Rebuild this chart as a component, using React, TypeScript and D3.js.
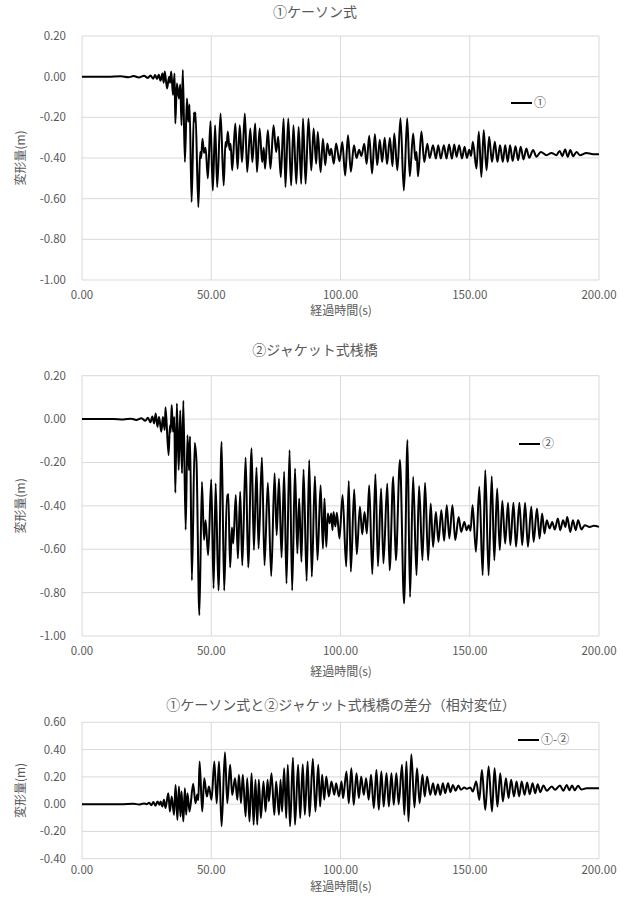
import React, { useEffect, useRef } from 'react';
import * as d3 from 'd3';

type Pt = [number, number];

const caisson: Pt[] = [
  [0, 0], [10, 0], [15, 0.002], [18, -0.003], [20, 0.003], [22, -0.004], [24, 0.004], [25.5, -0.006],
  [26.5, 0.006], [27.5, -0.01], [28.3, 0.008], [29, -0.012], [29.7, 0.01], [30.4, -0.02], [31.1, 0.015],
  [31.6, -0.03], [32.0, 0.025], [32.9, -0.058], [33.7, 0.0], [34.1, -0.03], [34.5, 0.025], [35.2, -0.09],
  [35.8, 0.016], [36.1, -0.23], [36.7, -0.033], [37.5, -0.107], [38.0, -0.038], [38.5, -0.239], [39.0, 0.033],
  [39.8, -0.42], [40.6, -0.107], [41.1, -0.222], [41.6, -0.137], [42.4, -0.617], [43.3, -0.176], [43.6, -0.22],
  [43.9, -0.176], [45.0, -0.642], [45.7, -0.37], [46.1, -0.4], [46.6, -0.305], [47.2, -0.375], [47.8, -0.35],
  [48.7, -0.5], [49.7, -0.219], [50.6, -0.56], [51.5, -0.239], [52.3, -0.543], [53.6, -0.181], [54.8, -0.535],
  [55.5, -0.321], [55.9, -0.345], [56.4, -0.27], [57.1, -0.36], [57.5, -0.33], [58.1, -0.461], [59.3, -0.23],
  [60.2, -0.453], [61.0, -0.239], [61.9, -0.42], [63.0, -0.181], [63.9, -0.469], [65.1, -0.255], [65.9, -0.42],
  [67.0, -0.23], [67.7, -0.469], [68.7, -0.255], [69.7, -0.42], [70.3, -0.35], [70.8, -0.453], [71.9, -0.263],
  [72.9, -0.453], [74.1, -0.239], [75.1, -0.37], [75.9, -0.296], [76.9, -0.494], [78.0, -0.206], [78.7, -0.543],
  [79.8, -0.206], [80.9, -0.535], [81.8, -0.239], [82.9, -0.527], [83.8, -0.247], [84.8, -0.527], [85.5, -0.206],
  [86.5, -0.527], [87.6, -0.206], [88.7, -0.461], [89.6, -0.255], [90.6, -0.428], [91.2, -0.272], [92.3, -0.469],
  [93.2, -0.305], [94.1, -0.436], [94.9, -0.329], [95.8, -0.387], [96.4, -0.354], [97.4, -0.428], [98.3, -0.329],
  [99.6, -0.416], [100.7, -0.321], [101.8, -0.486], [102.9, -0.288], [104.0, -0.468], [105.2, -0.337], [106.2, -0.4],
  [107.2, -0.36], [108.1, -0.39], [109.2, -0.33], [110.1, -0.43], [111.1, -0.29], [112.2, -0.476], [113.3, -0.283],
  [114.2, -0.435], [115.2, -0.31], [116.1, -0.42], [117.1, -0.3], [118.0, -0.43], [119.1, -0.3], [120.1, -0.44],
  [120.8, -0.28], [122.0, -0.46], [123.2, -0.205], [124.5, -0.56], [125.8, -0.205], [126.8, -0.49], [128.1, -0.28],
  [129.0, -0.41], [129.4, -0.37], [130.0, -0.49], [131.3, -0.27], [132.4, -0.42], [133.6, -0.33], [134.5, -0.4],
  [135.8, -0.337], [136.9, -0.403], [137.8, -0.337], [138.8, -0.403], [140.0, -0.337], [141.0, -0.403], [142.0, -0.334],
  [143.1, -0.403], [144.0, -0.334], [144.9, -0.394], [145.9, -0.337], [147.0, -0.403], [148.0, -0.345], [148.9, -0.4],
  [149.8, -0.36], [150.5, -0.39], [151.2, -0.32], [152.6, -0.452], [153.5, -0.271], [154.5, -0.493], [155.4, -0.263],
  [156.5, -0.46], [157.5, -0.296], [158.6, -0.419], [159.7, -0.32], [160.7, -0.419], [161.7, -0.337], [162.8, -0.419],
  [163.7, -0.337], [164.7, -0.419], [165.6, -0.337], [166.6, -0.414], [167.7, -0.342], [168.7, -0.411], [169.7, -0.345],
  [170.8, -0.407], [171.9, -0.353], [173.0, -0.399], [174.5, -0.361], [175.8, -0.394], [177.5, -0.37], [179.7, -0.386],
  [181.6, -0.375], [183.5, -0.386], [184.8, -0.365], [185.8, -0.391], [186.9, -0.358], [187.9, -0.394], [188.9, -0.361],
  [190.0, -0.391], [191.3, -0.37], [192.6, -0.386], [195.1, -0.375], [197.7, -0.381], [200, -0.381],
];

// ②ジャケット式桟橋
const jacket: Pt[] = [
  [0, 0], [12, 0], [16, -0.002], [19, 0.002], [21, -0.004], [23, 0.004], [24.5, -0.008], [25.5, 0.006],
  [26.5, -0.015], [27.2, 0.012], [27.9, -0.02], [28.5, 0.026], [29.2, -0.035], [29.8, 0.01], [30.7, -0.058],
  [31.3, 0.01], [32.0, -0.05], [32.3, 0.054], [33.5, -0.166], [34.0, -0.03], [34.3, -0.06], [34.7, 0.065],
  [35.2, -0.058], [35.7, 0.01], [36.1, -0.34], [36.7, 0.072], [37.4, -0.235], [38.0, 0.04], [38.7, -0.25],
  [39.2, 0.085], [40.1, -0.51], [40.8, -0.074], [41.4, -0.235], [41.8, -0.08], [42.5, -0.743], [43.6, -0.11],
  [44.3, -0.2], [45.4, -0.904], [46.4, -0.29], [47.2, -0.558], [47.8, -0.466], [48.8, -0.627], [50.0, -0.278],
  [50.9, -0.78], [51.7, -0.297], [52.8, -0.79], [54.0, -0.105], [55.0, -0.79], [56.1, -0.35], [56.35, -0.37],
  [56.6, -0.345], [57.3, -0.684], [58.0, -0.5], [58.5, -0.574], [59.5, -0.35], [60.3, -0.643], [61.2, -0.335],
  [62.0, -0.674], [63.3, -0.177], [64.3, -0.684], [65.6, -0.135], [66.5, -0.604], [67.5, -0.223], [68.3, -0.597],
  [69.6, -0.177], [70.6, -0.674], [71.9, -0.294], [73.2, -0.724], [74.5, -0.25], [75.3, -0.535], [76.2, -0.274],
  [77.2, -0.638], [78.2, -0.243], [79.1, -0.758], [80.3, -0.143], [81.3, -0.79], [82.4, -0.228], [83.3, -0.62],
  [84.0, -0.366], [84.9, -0.658], [85.7, -0.232], [86.9, -0.746], [87.9, -0.189], [88.9, -0.727], [90.1, -0.263],
  [91.1, -0.65], [92.3, -0.305], [93.2, -0.597], [93.8, -0.366], [94.5, -0.589], [95.1, -0.435], [95.8, -0.48],
  [96.4, -0.435], [96.9, -0.512], [97.3, -0.428], [98.0, -0.495], [98.6, -0.432], [99.6, -0.55], [100.8, -0.35],
  [102.2, -0.68], [103.2, -0.285], [104.0, -0.704], [105.3, -0.325], [106.3, -0.623], [107.5, -0.404], [108.4, -0.531],
  [109.3, -0.428], [110.2, -0.528], [111.1, -0.305], [112.3, -0.715], [113.5, -0.254], [114.5, -0.678], [115.7, -0.32],
  [116.6, -0.666], [118.1, -0.297], [119.0, -0.697], [120.4, -0.266], [121.4, -0.651], [123.0, -0.189], [124.6, -0.85],
  [125.9, -0.097], [126.9, -0.82], [128.1, -0.266], [129.4, -0.72], [130.4, -0.309], [131.7, -0.651], [132.7, -0.294],
  [133.9, -0.651], [134.9, -0.389], [135.8, -0.589], [136.9, -0.428], [137.9, -0.566], [139.0, -0.42], [140.1, -0.561],
  [141.1, -0.397], [142.1, -0.55], [143.3, -0.397], [144.4, -0.558], [145.7, -0.451], [146.7, -0.52], [147.9, -0.474],
  [148.8, -0.512], [149.6, -0.49], [150.3, -0.515], [151.1, -0.397], [152.4, -0.612], [153.7, -0.312], [155.0, -0.72],
  [156.0, -0.235], [157.3, -0.72], [158.5, -0.263], [159.5, -0.651], [160.6, -0.32], [161.6, -0.604], [162.6, -0.377],
  [163.7, -0.574], [164.8, -0.386], [165.7, -0.581], [166.9, -0.386], [167.9, -0.589], [169.2, -0.386], [170.3, -0.581],
  [171.4, -0.386], [172.5, -0.589], [173.8, -0.404], [174.7, -0.566], [176.0, -0.412], [177.0, -0.55], [178.0, -0.435],
  [178.9, -0.527], [179.8, -0.466], [180.9, -0.504], [181.9, -0.474], [182.9, -0.509], [184.1, -0.458], [185.0, -0.512],
  [186.1, -0.466], [187.0, -0.497], [187.7, -0.451], [188.9, -0.52], [189.9, -0.466], [191.0, -0.512], [191.9, -0.466],
  [193.2, -0.509], [194.5, -0.489], [196.4, -0.497], [198, -0.492], [200, -0.497],
];

// ①-② 相対変位
const relative: Pt[] = [
  [0, 0], [15, 0], [20, 0.003], [22, -0.003], [24, 0.005], [25, 0], [26, 0.01], [26.8, -0.008], [27.6, 0.015],
  [28.4, -0.012], [29.2, 0.02], [30.0, -0.005], [30.4, 0.02], [31.1, -0.017], [31.7, 0.032], [32.3, -0.029],
  [33.4, 0.08], [34.0, -0.054], [34.7, 0.056], [35.6, -0.078], [36.2, 0.141], [36.9, -0.115], [37.5, 0.129],
  [38.1, -0.09], [38.5, 0.093], [39.2, -0.127], [39.8, 0.117], [40.3, -0.078], [40.8, 0.08], [41.6, -0.054],
  [43.0, 0.15], [43.9, 0.007], [44.6, 0.07], [45.0, 0.03], [45.5, 0.312], [46.5, -0.054], [47.3, 0.19],
  [48.3, 0.056], [49.1, 0.129], [50.1, 0.032], [51.2, 0.312], [52.1, 0.007], [53.0, 0.312], [54.0, -0.163],
  [55.3, 0.38], [56.2, 0.007], [57.3, 0.288], [58.1, 0.068], [59.2, 0.19], [60.1, 0.032], [60.7, 0.215],
  [61.5, 0.007], [62.2, 0.215], [63.3, -0.09], [63.9, 0.19], [64.8, -0.127], [65.6, 0.227], [66.4, -0.151],
  [67.1, 0.178], [67.8, -0.151], [68.4, 0.178], [69.2, -0.102], [70.2, 0.166], [71.0, -0.054], [71.8, 0.178],
  [72.3, 0.02], [73.3, 0.227], [74.4, -0.078], [75.1, 0.166], [76.2, -0.078], [76.8, 0.178], [77.4, -0.054],
  [78.2, 0.263], [79.0, -0.102], [79.6, 0.288], [80.5, -0.163], [81.6, 0.341], [82.4, -0.151], [83.6, 0.288],
  [84.4, -0.102], [85.4, 0.293], [86.2, -0.078], [87.3, 0.312], [88.0, -0.09], [89.3, 0.332], [90.3, -0.054],
  [91.4, 0.288], [92.1, -0.017], [92.9, 0.215], [93.7, 0.032], [94.5, 0.202], [95.5, 0.056], [96.5, 0.166],
  [97.6, 0.068], [98.3, 0.154], [99.4, 0.056], [100.4, 0.166], [101.0, 0.044], [102.3, 0.239], [103.2, 0.007],
  [104.2, 0.263], [105.1, -0.005], [106.2, 0.227], [107.1, 0.044], [108.0, 0.202], [109.0, 0.068], [109.9, 0.19],
  [110.9, 0.032], [111.8, 0.215], [112.9, -0.029], [113.9, 0.251], [114.8, -0.041], [115.8, 0.239], [116.7, -0.017],
  [117.8, 0.227], [118.7, -0.017], [119.7, 0.227], [120.6, -0.005], [121.6, 0.227], [122.5, 0], [123.8, 0.288],
  [124.7, -0.078], [125.5, 0.312], [126.3, -0.127], [127.4, 0.366], [128.6, -0.024], [129.6, 0.263], [130.6, 0.007],
  [131.7, 0.215], [132.6, 0.056], [133.5, 0.202], [134.7, 0.068], [135.8, 0.154], [136.7, 0.068], [137.7, 0.146],
  [138.6, 0.068], [139.6, 0.154], [140.5, 0.08], [141.6, 0.154], [142.5, 0.088], [143.5, 0.141], [144.5, 0.098],
  [145.6, 0.137], [146.6, 0.105], [147.9, 0.122], [148.9, 0.112], [150.2, 0.122], [151.2, 0.093], [152.5, 0.166],
  [153.7, 0.032], [154.7, 0.251], [156.0, -0.041], [157.3, 0.276], [158.6, -0.054], [159.6, 0.263], [160.7, -0.017],
  [161.8, 0.227], [162.8, 0.02], [164.0, 0.19], [165.0, 0.044], [166.0, 0.178], [167.1, 0.056], [168.1, 0.166],
  [169.1, 0.056], [170.1, 0.166], [171.2, 0.068], [172.2, 0.159], [173.2, 0.073], [174.3, 0.154], [175.3, 0.08],
  [176.3, 0.146], [177.3, 0.088], [178.5, 0.137], [179.8, 0.098], [181.7, 0.129], [183.0, 0.105], [184.9, 0.137],
  [186.2, 0.098], [187.5, 0.141], [188.5, 0.102], [189.6, 0.137], [190.6, 0.102], [191.9, 0.134], [193.2, 0.107],
  [195.2, 0.117], [200, 0.117],
];

const xTicks = [0, 50, 100, 150, 200];
const yTicksMain = [0.2, 0, -0.2, -0.4, -0.6, -0.8, -1.0];
const yTicksDiff = [0.6, 0.4, 0.2, 0, -0.2, -0.4];
const titles = ['①ケーソン式', '②ジャケット式桟橋', '①ケーソン式と②ジャケット式桟橋の差分（相対変位）'];
const legendLabels = ['①', '②', '①-②'];
const xTitle = '経過時間(s)';
const yTitle = '変形量(m)';

const FONT = "'Noto Sans CJK JP', 'Noto Sans', sans-serif";
const TEXT = '#595959';

const panels = [
  { data: caisson, ticks: yTicksMain, top: 36, bottom: 280, titleX: 315, titleY: 12, tickY: 295, labelY: 311, legend: [511, 103] },
  { data: jacket, ticks: yTicksMain, top: 375.7, bottom: 636, titleX: 315, titleY: 350, tickY: 651, labelY: 672, legend: [519, 444] },
  { data: relative, ticks: yTicksDiff, top: 722.3, bottom: 858.7, titleX: 341, titleY: 705, tickY: 870, labelY: 887, legend: [518, 740] },
];

export default function App() {
  const ref = useRef<SVGSVGElement>(null);
  const width = 629;
  const height = 903;
  const left = 82;
  const right = 599;

  useEffect(() => {
    const svg = d3.select(ref.current);
    svg.selectAll('*').remove();

    svg.append('rect').attr('width', width).attr('height', height).attr('fill', '#fff');

    const x = d3.scaleLinear().domain([0, 200]).range([left, right]);

    panels.forEach((p, i) => {
      const ext = d3.extent(p.ticks) as [number, number];
      const y = d3.scaleLinear().domain(ext).range([p.bottom, p.top]);
      const g = svg.append('g');

      g.selectAll('.hgrid')
        .data(p.ticks)
        .enter().append('line')
        .attr('x1', left).attr('x2', right)
        .attr('y1', d => y(d)).attr('y2', d => y(d))
        .attr('stroke', '#d9d9d9').attr('stroke-width', 1);

      g.selectAll('.vgrid')
        .data(xTicks)
        .enter().append('line')
        .attr('x1', d => x(d)).attr('x2', d => x(d))
        .attr('y1', p.top).attr('y2', p.bottom)
        .attr('stroke', '#d9d9d9').attr('stroke-width', 1);

      g.selectAll('.ylab')
        .data(p.ticks)
        .enter().append('text')
        .attr('x', 66).attr('y', d => y(d))
        .attr('dy', '0.35em')
        .attr('text-anchor', 'end')
        .style('font-family', FONT).style('font-size', '11.5px').attr('fill', TEXT)
        .text(d => d.toFixed(2));

      g.selectAll('.xlab')
        .data(xTicks)
        .enter().append('text')
        .attr('x', d => x(d)).attr('y', p.tickY)
        .attr('dy', '0.35em')
        .attr('text-anchor', 'middle')
        .style('font-family', FONT).style('font-size', '11.5px').attr('fill', TEXT)
        .text(d => d.toFixed(2));

      g.append('text')
        .attr('x', (left + right) / 2 + 0.5).attr('y', p.labelY)
        .attr('dy', '0.35em').attr('text-anchor', 'middle')
        .style('font-family', FONT).style('font-size', '12px').attr('fill', TEXT)
        .text(xTitle);

      g.append('text')
        .attr('transform', `translate(21,${(p.top + p.bottom) / 2}) rotate(-90)`)
        .attr('dy', '0.35em').attr('text-anchor', 'middle')
        .style('font-family', FONT).style('font-size', '12px').attr('fill', TEXT)
        .text(yTitle);

      g.append('text')
        .attr('x', p.titleX).attr('y', p.titleY)
        .attr('dy', '0.35em').attr('text-anchor', 'middle')
        .style('font-family', FONT).style('font-size', '14px').attr('fill', TEXT)
        .text(titles[i]);

      const line = d3.line<Pt>()
        .x(d => x(d[0]))
        .y(d => y(d[1]))
        .curve(d3.curveMonotoneX);

      g.append('path')
        .datum(p.data)
        .attr('d', line)
        .attr('fill', 'none')
        .attr('stroke', '#000')
        .attr('stroke-width', 2)
        .attr('stroke-linejoin', 'round');

      const [lx, ly] = p.legend;
      g.append('line')
        .attr('x1', lx).attr('x2', lx + 21).attr('y1', ly).attr('y2', ly)
        .attr('stroke', '#000').attr('stroke-width', 2);
      g.append('text')
        .attr('x', lx + 23).attr('y', ly).attr('dy', '0.35em')
        .style('font-family', FONT).style('font-size', '12px').attr('fill', TEXT)
        .text(legendLabels[i]);
    });
  }, []);

  return (
    <svg
      ref={ref}
      width={width}
      height={height}
      style={{ position: 'absolute', left: 0, top: 0, display: 'block' }}
    />
  );
}
